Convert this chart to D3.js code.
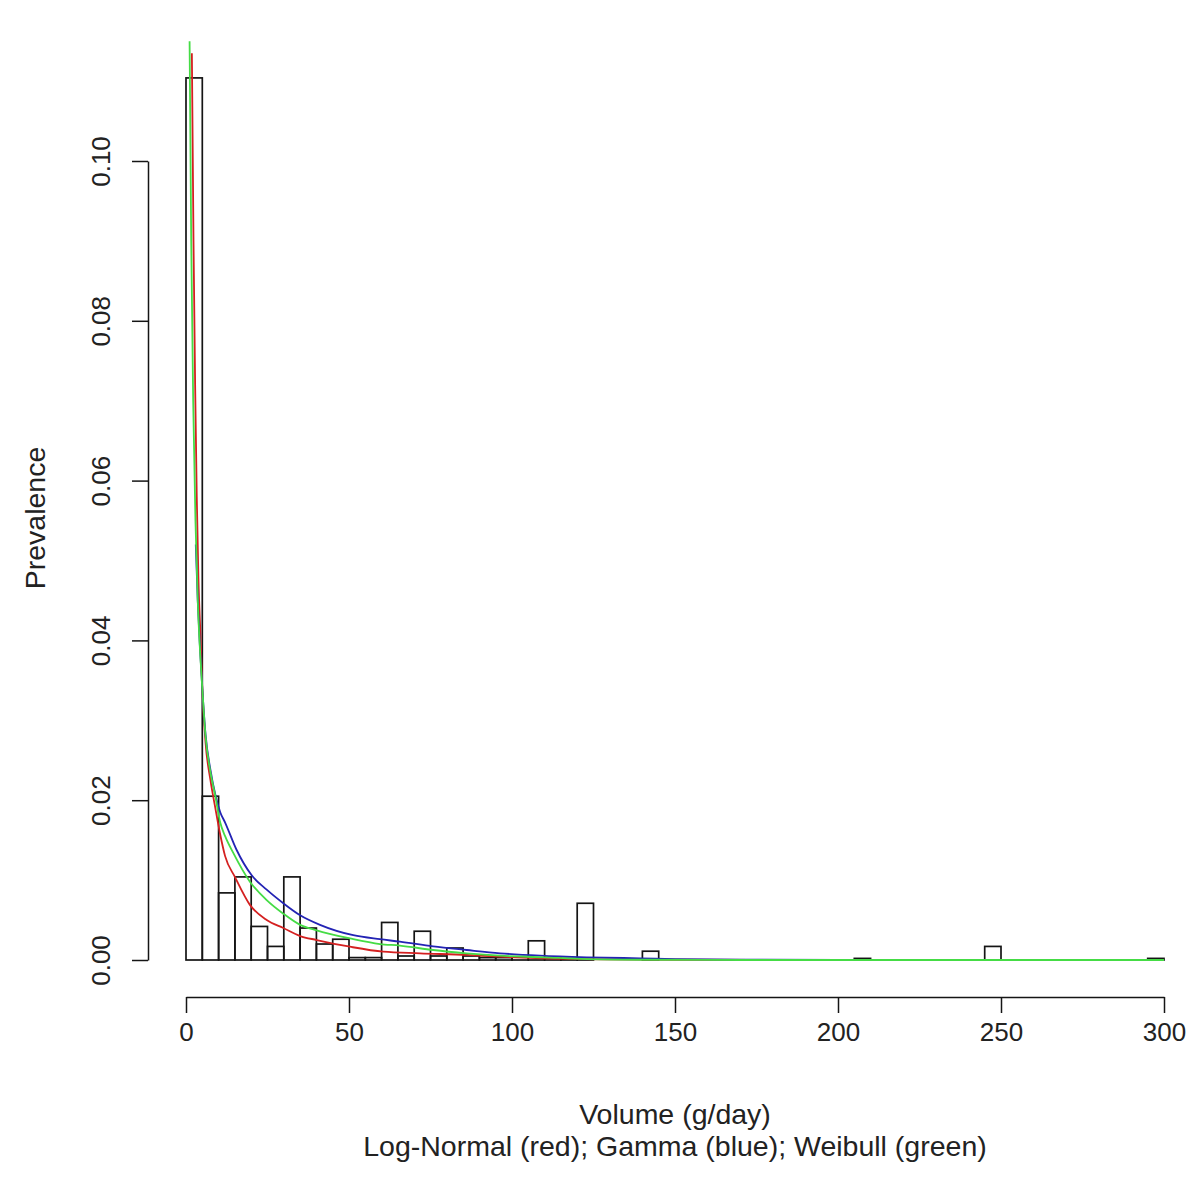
<!DOCTYPE html>
<html>
<head>
<meta charset="utf-8">
<script src="https://cdn.jsdelivr.net/npm/d3@7"></script>
<style>
  html, body { margin: 0; padding: 0; background: #fff; }
  svg text { font-family: "Liberation Sans", Arial, sans-serif; fill: #222; }
</style>
</head>
<body>
<svg id="chart" width="1200" height="1188"></svg>
<script>
// ---- data ----
const binLower = [0,5,10,15,20,25,30,35,40,45,50,55,60,65,70,75,80,85,90,95,
  100,105,110,115,120,125,130,135,140,145,150,155,160,165,170,175,180,185,190,195,
  200,205,210,215,220,225,230,235,240,245,250,255,260,265,270,275,280,285,290,295];
const binWidth = 5;
const binDensity = [0.1104,0.0205,0.0084,0.0104,0.0042,0.0017,0.0104,0.0040,0.0020,0.0026,
  0.0003,0.0003,0.0047,0.0005,0.0036,0.0005,0.0015,0.0005,0.0003,0.0003,
  0.0004,0.0024,0.0003,0.0002,0.0071,0,0,0,0.0011,0,
  0,0,0,0,0,0,0,0,0,0,
  0,0.0002,0,0,0,0,0,0,0,0.0017,
  0,0,0,0,0,0,0,0,0,0.0002];

const lognormX = [1.8,2.3,2.8,3.3,3.8,4.5,5.0,6.0,7.5,9.0,10.4,12,15,19.6,24.75,29.85,35,40.1,50.3,60.5,71.8,86.1,96.3,109.5,127,150,200,300];
const lognormY = [0.1135,0.090,0.072,0.058,0.048,0.040,0.034,0.0272,0.0225,0.0190,0.0159,0.0130,0.0104,0.0069,0.0050,0.0040,0.0030,0.0025,0.00166,0.00104,0.00084,0.00063,0.00041,0.00021,0.00008,0.00003,0.00001,0];

const gammaX = [3.0,3.6,4.3,5.0,6.0,7.5,9.0,10.5,12,15.5,20.15,24.75,29.85,35,41.1,51.3,59.5,65.6,75.8,86.1,96.3,108.6,122.9,139.3,150,170,200,300];
const gammaY = [0.052,0.045,0.039,0.034,0.0282,0.0238,0.0207,0.0185,0.0172,0.0138,0.0106,0.0088,0.0071,0.0056,0.0044,0.0031,0.0026,0.0023,0.0017,0.00125,0.00084,0.00054,0.00034,0.00021,0.00012,0.00004,0.00001,0];

const weibullX = [1.1,1.6,2.2,2.9,3.6,4.4,5.0,6.0,7.5,9.0,10.5,12,14.5,19.6,24.75,29.85,35,40.1,50.3,59.5,65.6,75.8,86.1,96.3,109.5,122.9,142,170,300];
const weibullY = [0.115,0.090,0.070,0.055,0.045,0.038,0.034,0.0280,0.0235,0.0205,0.0172,0.0155,0.0134,0.0098,0.0075,0.0058,0.0044,0.0037,0.0027,0.0020,0.0018,0.00125,0.00084,0.00054,0.00034,0.00012,0.00003,0,0];

const xTicks = [0,50,100,150,200,250,300];
const yTicks = [0,0.02,0.04,0.06,0.08,0.10];
const yTickLabels = ["0.00","0.02","0.04","0.06","0.08","0.10"];
const xTitle = "Volume (g/day)";
const subTitle = "Log-Normal (red); Gamma (blue); Weibull (green)";
const yTitle = "Prevalence";

// ---- drawing ----
const svg = d3.select("#chart");
const x = d3.scaleLinear().domain([0, 300]).range([186, 1164]);
const y = d3.scaleLinear().domain([0, 0.1]).range([960, 161]);

// histogram bars
svg.append("g").selectAll("rect")
  .data(binLower.map((b, i) => ({b, d: binDensity[i]})))
  .join("rect")
  .attr("x", d => x(d.b))
  .attr("y", d => y(d.d))
  .attr("width", d => x(d.b + binWidth) - x(d.b))
  .attr("height", d => y(0) - y(d.d))
  .attr("fill", "none")
  .attr("stroke", "#151515")
  .attr("stroke-width", 1.7);

// curves
const line = d3.line().x(d => x(d[0])).y(d => y(d[1])).curve(d3.curveMonotoneX);
const curves = [
  {xs: lognormX, ys: lognormY, color: "#d42020"},
  {xs: gammaX, ys: gammaY, color: "#2323b4"},
  {xs: weibullX, ys: weibullY, color: "#45dc45"}
];
curves.forEach(c => {
  svg.append("path")
    .datum(c.xs.map((v, i) => [v, c.ys[i]]))
    .attr("d", line)
    .attr("fill", "none")
    .attr("stroke", c.color)
    .attr("stroke-width", 1.8);
});

// x axis (R style, offset below plot)
const xAxis = d3.axisBottom(x).tickValues(xTicks).tickSize(16).tickPadding(10).tickSizeOuter(0)
  .tickFormat(d3.format("d"));
const gx = svg.append("g").attr("transform", "translate(0,997)").call(xAxis);
gx.select(".domain").attr("stroke", "#151515").attr("stroke-width", 1.5);
gx.selectAll(".tick line").attr("stroke", "#151515").attr("stroke-width", 1.5);
gx.selectAll(".tick text").attr("font-size", 26).attr("fill", "#222")
  .attr("font-family", "Liberation Sans, Arial, sans-serif");

// y axis
const yAxis = d3.axisLeft(y).tickValues(yTicks).tickSize(16).tickSizeOuter(0)
  .tickFormat((d, i) => yTickLabels[i]);
const gy = svg.append("g").attr("transform", "translate(148,0)").call(yAxis);
gy.select(".domain").attr("stroke", "#151515").attr("stroke-width", 1.5);
gy.selectAll(".tick line").attr("stroke", "#151515").attr("stroke-width", 1.5);
gy.selectAll(".tick text")
  .attr("font-size", 26).attr("fill", "#222")
  .attr("font-family", "Liberation Sans, Arial, sans-serif")
  .attr("x", null).attr("dy", null)
  .attr("text-anchor", "middle")
  .attr("transform", "translate(-38,0) rotate(-90)");

// titles
svg.append("text").attr("x", 675).attr("y", 1124).attr("text-anchor", "middle")
  .attr("font-size", 28.5).text(xTitle);
svg.append("text").attr("x", 675).attr("y", 1156).attr("text-anchor", "middle")
  .attr("font-size", 28.5).text(subTitle);
svg.append("text").attr("transform", "translate(45,518) rotate(-90)").attr("text-anchor", "middle")
  .attr("font-size", 28.5).text(yTitle);
</script>
</body>
</html>
